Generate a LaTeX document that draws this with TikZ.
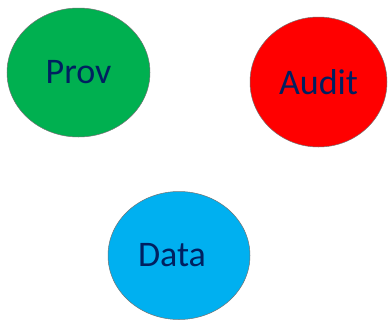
\documentclass[tikz,border=0pt]{standalone}
\usepackage{fontspec}
\setmainfont{Carlito}
\usetikzlibrary{shapes.geometric}
\definecolor{provgreen}{HTML}{00B050}
\definecolor{auditred}{HTML}{FF0000}
\definecolor{datablue}{HTML}{00B0F0}
\definecolor{labelnavy}{HTML}{002060}
\tikzset{
  blob/.style={ellipse, draw=black!55, line width=0.5pt, inner sep=0pt,
    font=\fontsize{36}{40}\selectfont, text=labelnavy},
}
\begin{document}
\begin{tikzpicture}[x=1pt,y=-1pt]
  \useasboundingbox (0,0) rectangle (388,324);
  \node[blob, fill=provgreen, minimum width=143pt, minimum height=129pt] (prov) at (78.5,72.5) {Prov};
  \node[blob, fill=auditred, minimum width=137pt, minimum height=130pt] (audit) at (318.5,82) {Audit};
  % label sits a little left of the ellipse centre
  \node[blob, fill=datablue, minimum width=142pt, minimum height=128pt] (data) at (179,255.5) {Data\kern14pt};
\end{tikzpicture}
\end{document}
